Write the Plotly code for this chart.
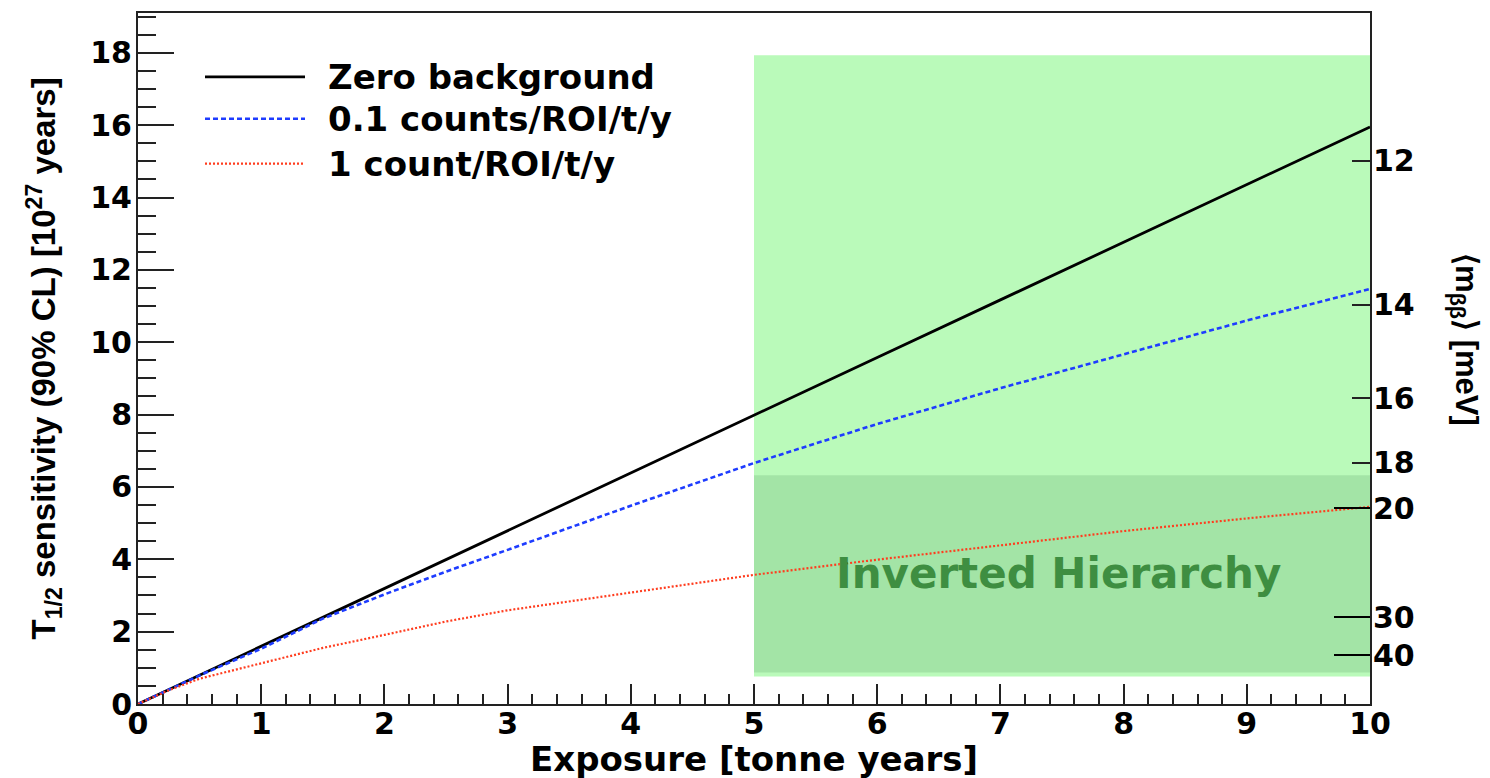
import plotly.graph_objects as go

# ---------------- data ----------------
exposure = [0, 0.25, 0.5, 1, 1.5, 2, 2.5, 3, 3.5, 4, 5, 6, 7, 8, 9, 10]
zero_bkg = [0, 0.40, 0.80, 1.59, 2.39, 3.19, 3.99, 4.79, 5.59, 6.39, 7.98, 9.58, 11.17, 12.76, 14.36, 15.95]
bkg_0p1 = [0, 0.40, 0.79, 1.53, 2.36, 3.03, 3.66, 4.26, 4.88, 5.48, 6.66, 7.74, 8.73, 9.66, 10.60, 11.47]
bkg_1 = [0, 0.38, 0.70, 1.13, 1.55, 1.91, 2.28, 2.59, 2.84, 3.09, 3.57, 3.99, 4.39, 4.78, 5.13, 5.45]

series_names = ["Zero background", "0.1 counts/ROI/t/y", "1 count/ROI/t/y"]

# shaded regions (exposure range, T1/2 range in 1e27 y)
band_exposure = [5, 10]
band_light_T = [0.76, 17.93]
band_ih_T = [0.87, 6.32]
ih_label = "Inverted Hierarchy"
ih_label_pos = [7.47, 3.6]

# right axis: <m_bb> [meV] ; T1/2 = K / m^2
mbb_K = 2162.0
mbb_ticks_short = [12, 14, 16, 18]
mbb_ticks_long = [20, 30, 40]

x_range = [0, 10]
y_range = [0, 19.1]

# ---------------- figure ----------------
W, H = 1490, 778
ml, mr, mt, mb = 138, 120, 11, 74
pw = W - ml - mr
ph = H - mt - mb

def px_to_paper_x(p):
    return (p - ml) / pw

def px_to_paper_y(p):
    return (H - mb - p) / ph

fig = go.Figure()

colors = ["black", "rgb(30,60,255)", "rgb(255,60,30)"]
dashes = ["solid", "5px,3px", "2px,2px"]
widths = [2.8, 2.6, 2.2]

for name, ys, c, d, w in zip(series_names, [zero_bkg, bkg_0p1, bkg_1], colors, dashes, widths):
    fig.add_trace(go.Scatter(x=exposure, y=ys, mode="lines", name=name,
                             line=dict(color=c, dash=d, width=w),
                             showlegend=False, hoverinfo="skip"))

# shaded bands
fig.add_shape(type="rect", xref="x", yref="y", layer="below",
              x0=band_exposure[0], x1=band_exposure[1], y0=band_light_T[0], y1=band_light_T[1],
              fillcolor="rgb(186,250,186)", line=dict(width=0))
fig.add_shape(type="rect", xref="x", yref="y", layer="below",
              x0=band_exposure[0], x1=band_exposure[1], y0=band_ih_T[0], y1=band_ih_T[1],
              fillcolor="rgb(163,228,166)", line=dict(width=0))

fig.add_annotation(x=ih_label_pos[0], y=ih_label_pos[1], xref="x", yref="y",
                   xanchor="center", yanchor="middle",
                   text=ih_label, showarrow=False,
                   font=dict(family="DejaVu Sans", size=42, color="rgb(62,142,65)", weight="bold"))

# manual legend
leg_rows_px = [75, 117, 162]
for name, c, d, w, ry in zip(series_names, colors, dashes, widths, leg_rows_px):
    yy = px_to_paper_y(ry)
    fig.add_shape(type="line", xref="paper", yref="paper",
                  x0=px_to_paper_x(205), x1=px_to_paper_x(305), y0=yy, y1=yy,
                  line=dict(color=c, dash=d, width=w))
    fig.add_annotation(x=px_to_paper_x(326), y=yy, xref="paper", yref="paper",
                       xanchor="left", yanchor="middle", text=name, showarrow=False,
                       font=dict(family="DejaVu Sans", size=34, color="black", weight="bold"))

tickfont = dict(family="DejaVu Sans", size=30, color="black", weight="bold")
framecol = "#222222"

fig.update_layout(
    width=W, height=H,
    margin=dict(l=ml, r=mr, t=mt, b=mb),
    paper_bgcolor="white", plot_bgcolor="white",
    showlegend=False,
    xaxis=dict(range=x_range, showgrid=False, zeroline=False,
               showline=True, linecolor=framecol, linewidth=2, mirror=True,
               ticks="inside", ticklen=20, tickwidth=1.5, tickcolor=framecol,
               dtick=1, tick0=0, tickfont=dict(tickfont, size=30),
               ticklabelstandoff=-8,
               minor=dict(ticks="inside", ticklen=10, tickwidth=1.5, tickcolor=framecol,
                          dtick=0.2, showgrid=False)),
    yaxis=dict(range=y_range, showgrid=False, zeroline=False,
               showline=True, linecolor=framecol, linewidth=2, mirror=True,
               ticks="inside", ticklen=36, tickwidth=1.5, tickcolor=framecol,
               dtick=2, tick0=0, tickfont=tickfont, ticklabelstandoff=-2,
               minor=dict(ticks="inside", ticklen=18, tickwidth=1.5, tickcolor=framecol,
                          dtick=0.5, showgrid=False)),
    yaxis2=dict(range=y_range, overlaying="y", side="right", anchor="x",
                showgrid=False, zeroline=False, showline=False,
                tickmode="array",
                tickvals=[mbb_K / m ** 2 for m in mbb_ticks_short],
                ticktext=[str(m) for m in mbb_ticks_short],
                ticks="inside", ticklen=18, tickwidth=1.5, tickcolor=framecol,
                tickfont=tickfont, ticklabelstandoff=2),
    yaxis3=dict(range=y_range, overlaying="y", side="right", anchor="x",
                showgrid=False, zeroline=False, showline=False,
                tickmode="array",
                tickvals=[mbb_K / m ** 2 for m in mbb_ticks_long],
                ticktext=[str(m) for m in mbb_ticks_long],
                ticks="inside", ticklen=36, tickwidth=1.5, tickcolor="black",
                tickfont=tickfont, ticklabelstandoff=2),
)

# invisible traces so the right axes render
fig.add_trace(go.Scatter(x=[x_range[0]], y=[y_range[0]], yaxis="y2", mode="markers",
                         marker=dict(opacity=0), showlegend=False, hoverinfo="skip"))
fig.add_trace(go.Scatter(x=[x_range[0]], y=[y_range[0]], yaxis="y3", mode="markers",
                         marker=dict(opacity=0), showlegend=False, hoverinfo="skip"))

# axis titles
fig.add_annotation(x=0.5, y=px_to_paper_y(759), xref="paper", yref="paper",
                   xanchor="center", yanchor="middle",
                   text="Exposure [tonne years]", showarrow=False,
                   font=dict(family="DejaVu Sans", size=34, color="black", weight="bold"))
fig.add_annotation(x=px_to_paper_x(44), y=0.5, xref="paper", yref="paper",
                   xanchor="center", yanchor="middle",
                   text="T<sub>1/2</sub> sensitivity (90% CL) [10<sup>27</sup> years]",
                   textangle=-90, showarrow=False,
                   font=dict(family="Liberation Sans", size=33, color="black", weight="bold"))
fig.add_annotation(x=px_to_paper_x(1464), y=px_to_paper_y(338), xref="paper", yref="paper",
                   xanchor="center", yanchor="middle",
                   text="⟨m<sub>ββ</sub>⟩ [meV]",
                   textangle=90, showarrow=False,
                   font=dict(family="Liberation Sans", size=31, color="black", weight="bold"))

fig.write_html("out.html")
